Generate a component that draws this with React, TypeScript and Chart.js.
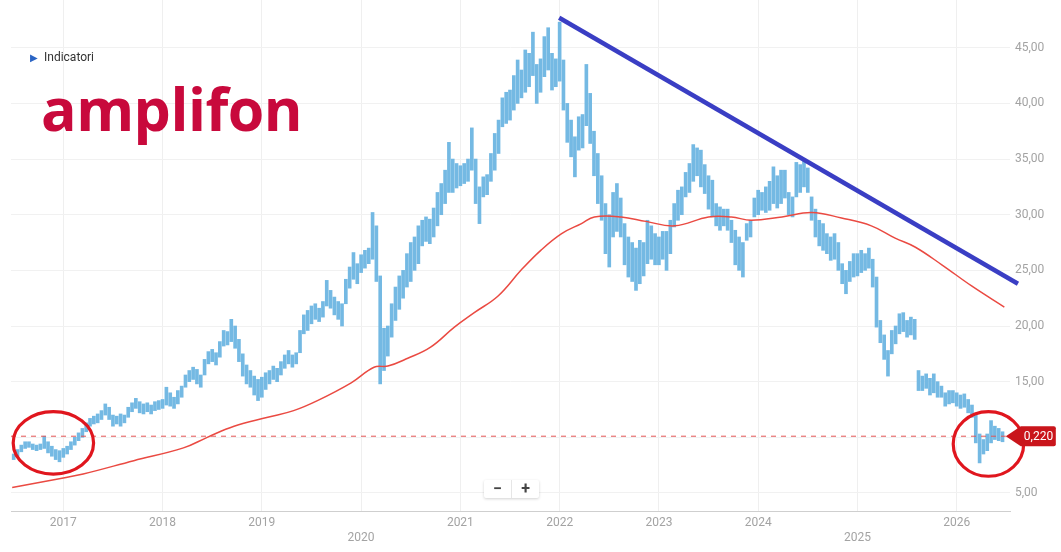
import React, { useEffect, useRef } from 'react';
import { Chart, registerables } from 'chart.js';

Chart.register(...registerables);

// ---- axis ticks ----
const xTickYears = [2017, 2018, 2019, 2020, 2021, 2022, 2023, 2024, 2025, 2026];
const lowerRowYears = [2020, 2025];
const yTickValues = [5, 10, 15, 20, 25, 30, 35, 40, 45];
const xMin = 2016.473;
const xMax = 2026.537;
const yMin = 3.38;
const yMax = 49.29;

// ---- bi-weekly high/low bars (26 per year) ----
const lo2016 = [8.0, 8.3, 8.7, 9.0, 9.1, 8.9, 8.8, 8.9, 9.0, 8.6, 8.3, 8.0, 7.8];
const hi2016 = [8.5, 8.9, 9.3, 9.6, 9.6, 9.4, 9.3, 9.4, 10.1, 9.6, 9.2, 8.9, 8.8];

const lo2017 = [8.2, 8.5, 8.9, 9.3, 9.7, 10.0, 10.5, 11.0, 11.2, 11.3, 11.6, 12.0, 11.6, 11.0, 11.2, 11.0, 11.3, 11.8, 12.3, 12.6, 12.2, 12.1, 12.3, 12.1, 12.4, 12.5];
const hi2017 = [9.0, 9.2, 9.6, 10.0, 10.4, 10.8, 11.3, 11.7, 11.9, 12.1, 12.4, 13.0, 12.7, 12.0, 11.9, 12.1, 12.0, 12.7, 13.1, 13.5, 13.2, 13.0, 13.1, 12.9, 13.2, 13.3];

const lo2018 = [12.6, 12.9, 12.8, 12.6, 13.0, 13.6, 14.5, 15.0, 15.2, 14.8, 14.5, 15.6, 16.6, 16.8, 16.5, 17.2, 18.2, 18.3, 18.6, 18.0, 16.8, 15.5, 14.8, 14.5, 13.8, 13.3];
const hi2018 = [13.4, 14.5, 14.0, 13.6, 14.2, 14.6, 15.6, 16.0, 16.3, 16.1, 15.6, 17.0, 17.7, 17.9, 17.6, 18.6, 19.6, 19.5, 20.6, 20.0, 18.8, 17.5, 16.5, 16.0, 15.5, 15.2];

const lo2019 = [13.6, 14.3, 14.8, 15.2, 15.0, 15.6, 16.2, 16.6, 16.3, 16.6, 17.6, 19.3, 19.6, 20.2, 20.6, 20.4, 20.8, 21.8, 21.6, 21.0, 20.6, 20.0, 22.0, 23.4, 24.2, 23.8];
const hi2019 = [15.4, 15.8, 16.0, 16.4, 16.2, 16.8, 17.4, 17.8, 17.4, 17.6, 19.6, 21.0, 21.4, 21.8, 22.0, 21.6, 22.2, 24.1, 23.2, 22.6, 22.2, 22.0, 24.2, 25.3, 26.6, 25.6];

const lo2020 = [24.8, 25.2, 25.6, 26.0, 24.0, 14.8, 16.0, 17.3, 19.0, 20.5, 21.5, 22.5, 23.5, 24.0, 25.0, 25.6, 27.2, 27.6, 27.4, 28.0, 29.0, 30.0, 31.0, 32.0, 32.0, 32.4];
const hi2020 = [26.4, 26.8, 27.0, 30.2, 29.0, 24.5, 19.8, 20.0, 22.0, 23.5, 24.5, 25.0, 26.5, 27.5, 28.0, 29.0, 29.5, 29.8, 29.6, 30.6, 32.0, 32.8, 34.0, 36.5, 35.0, 34.6];

const lo2021 = [32.6, 32.8, 33.0, 34.0, 31.0, 29.2, 31.6, 31.8, 33.0, 34.0, 35.5, 37.9, 38.2, 38.5, 39.4, 40.0, 40.5, 41.0, 41.5, 42.5, 40.0, 41.0, 42.4, 43.0, 41.2, 41.5];
const hi2021 = [34.4, 34.6, 35.0, 37.8, 35.0, 32.5, 33.4, 33.6, 35.5, 37.3, 38.5, 40.5, 41.0, 41.2, 42.5, 43.9, 43.0, 44.8, 44.5, 46.4, 43.5, 44.0, 46.0, 46.8, 44.5, 44.0];

const lo2022 = [42.0, 39.4, 36.5, 35.2, 33.4, 35.8, 36.0, 38.0, 36.4, 33.5, 31.0, 29.5, 26.5, 25.3, 28.0, 28.5, 28.0, 25.5, 24.4, 24.0, 23.2, 23.8, 24.5, 25.6, 26.0, 25.5];
const hi2022 = [47.3, 43.9, 40.0, 38.5, 37.0, 38.8, 39.0, 43.5, 40.9, 37.5, 35.5, 33.5, 31.0, 30.0, 32.0, 32.8, 31.5, 29.2, 28.0, 27.5, 27.0, 27.7, 27.5, 29.5, 29.0, 28.3];

const lo2023 = [25.5, 26.0, 25.0, 26.5, 28.9, 29.5, 30.0, 31.6, 32.0, 33.0, 33.5, 32.5, 31.9, 30.5, 29.8, 29.0, 28.6, 29.0, 28.6, 27.5, 25.5, 25.0, 24.4, 27.7, 28.0, 29.8];
const hi2023 = [28.0, 28.5, 28.5, 29.5, 31.0, 32.2, 32.5, 33.8, 34.6, 36.3, 36.0, 35.8, 34.5, 33.5, 33.1, 31.0, 30.7, 30.5, 30.5, 29.5, 28.6, 28.0, 27.5, 29.2, 29.5, 31.5];

const lo2024 = [30.0, 30.4, 30.2, 30.4, 31.0, 30.6, 31.0, 31.5, 30.0, 29.8, 31.6, 32.0, 32.5, 32.0, 29.5, 28.0, 27.2, 26.8, 26.5, 25.9, 26.0, 25.0, 23.8, 22.9, 24.0, 24.4];
const hi2024 = [32.2, 32.0, 32.5, 33.0, 34.3, 33.5, 34.0, 34.0, 32.0, 31.6, 34.7, 34.5, 34.9, 34.2, 31.6, 30.5, 29.5, 29.2, 28.3, 28.0, 28.3, 27.5, 25.6, 25.0, 25.8, 26.5];

const lo2025 = [24.5, 24.8, 25.0, 25.2, 23.5, 19.9, 18.5, 17.0, 15.5, 17.5, 18.4, 19.3, 19.5, 19.0, 19.2, 18.8, 14.2, 14.2, 14.4, 13.8, 14.0, 13.6, 13.6, 12.8, 13.0, 13.1];
const hi2025 = [26.5, 26.8, 26.5, 27.0, 26.0, 24.4, 20.5, 19.2, 17.8, 19.6, 20.0, 21.1, 21.2, 20.5, 20.8, 20.6, 16.0, 15.5, 15.7, 15.3, 15.7, 15.0, 14.6, 14.0, 14.2, 14.2];

const lo2026 = [12.8, 12.6, 12.7, 12.2, 11.8, 9.5, 7.7, 8.5, 8.8, 9.5, 9.8, 9.7, 9.6];
const hi2026 = [14.0, 13.8, 13.9, 13.4, 12.9, 12.0, 10.3, 9.8, 10.3, 11.5, 11.0, 10.8, 10.5];

// ---- 200-period moving average ----
const maDates = [2016.485, 2017.0, 2017.2, 2017.71, 2018.21, 2018.45, 2018.72, 2019.06, 2019.32, 2019.56, 2019.9, 2020.13, 2020.27, 2020.47, 2020.7, 2020.94, 2021.14, 2021.38, 2021.61, 2021.81, 2022.02, 2022.22, 2022.35, 2022.62, 2022.87, 2023.16, 2023.5, 2023.73, 2023.93, 2024.24, 2024.54, 2024.84, 2025.14, 2025.38, 2025.58, 2025.85, 2026.15, 2026.48];
const maValues = [5.5, 6.35, 6.7, 7.9, 9.05, 10.0, 11.0, 11.8, 12.4, 13.3, 14.9, 16.3, 16.4, 17.1, 18.1, 19.9, 21.2, 22.7, 25.0, 26.8, 28.3, 29.2, 29.8, 29.8, 29.4, 29.0, 29.8, 29.8, 29.5, 29.8, 30.2, 29.7, 29.0, 27.9, 27.1, 25.5, 23.6, 21.7];

// ---- trend line & last price ----
const trendDates = [2021.995, 2026.617];
const trendValues = [47.7, 23.8];
const lastPrice = 10.1;
const lastPriceEnd = 2026.495;
const lastPriceLabel = '0,220';

// ---- highlighted zones (center date, center value, half-width in years, half-height in price) ----
const circleDates = [2016.9, 2026.32];
const circleValues = [9.5, 9.4];
const circleHalfWidths = [0.405, 0.355];
const circleHalfHeights = [2.8, 2.9];

const yearBlocks: [number, number, number[], number[]][] = [
  [2016, 13, lo2016, hi2016],
  [2017, 0, lo2017, hi2017],
  [2018, 0, lo2018, hi2018],
  [2019, 0, lo2019, hi2019],
  [2020, 0, lo2020, hi2020],
  [2021, 0, lo2021, hi2021],
  [2022, 0, lo2022, hi2022],
  [2023, 0, lo2023, hi2023],
  [2024, 0, lo2024, hi2024],
  [2025, 0, lo2025, hi2025],
  [2026, 0, lo2026, hi2026],
];

function buildBars() {
  const out: { x: number; y: [number, number] }[] = [];
  yearBlocks.forEach(([year, start, lo, hi]) => {
    lo.forEach((l, i) => {
      out.push({ x: year + (start + i) / 26, y: [l, hi[i]] });
    });
  });
  return out;
}

const overlayPlugin = {
  id: 'overlay',
  afterDraw(chart: any) {
    const { ctx, scales } = chart;
    const xs = scales.x;
    const ys = scales.y;
    ctx.save();
    // circles
    ctx.strokeStyle = '#e0161e';
    ctx.lineWidth = 3.2;
    circleDates.forEach((d, i) => {
      const cx = xs.getPixelForValue(d);
      const cy = ys.getPixelForValue(circleValues[i]);
      const rx = xs.getPixelForValue(d + circleHalfWidths[i]) - cx;
      const ry = cy - ys.getPixelForValue(circleValues[i] + circleHalfHeights[i]);
      ctx.beginPath();
      ctx.ellipse(cx, cy, rx, ry, 0, 0, Math.PI * 2);
      ctx.stroke();
    });
    // last price label
    const tipX = xs.getPixelForValue(lastPriceEnd);
    const py = ys.getPixelForValue(lastPrice);
    const boxL = tipX + 15;
    const boxR = boxL + 35;
    ctx.fillStyle = '#c9151b';
    ctx.beginPath();
    ctx.moveTo(tipX, py);
    ctx.lineTo(boxL, py - 10);
    ctx.lineTo(boxR - 2, py - 10);
    ctx.quadraticCurveTo(boxR, py - 10, boxR, py - 8);
    ctx.lineTo(boxR, py + 8);
    ctx.quadraticCurveTo(boxR, py + 10, boxR - 2, py + 10);
    ctx.lineTo(boxL, py + 10);
    ctx.closePath();
    ctx.fill();
    ctx.fillStyle = '#ffffff';
    ctx.font = '12px Roboto';
    ctx.textBaseline = 'middle';
    ctx.textAlign = 'left';
    ctx.fillText(lastPriceLabel, boxL + 3, py + 1);
    ctx.restore();
  },
};

function App() {
  const ref = useRef<HTMLCanvasElement | null>(null);
  useEffect(() => {
    if (!ref.current) return;
    Chart.defaults.font.family = 'Roboto';
    const bars = buildBars();
    const chart = new Chart(ref.current, {
      type: 'bar',
      data: {
        datasets: [
          {
            type: 'line',
            label: 'trend',
            data: trendDates.map((d, i) => ({ x: d, y: trendValues[i] })),
            borderColor: '#3a3ec4',
            borderWidth: 4.5,
            pointRadius: 0,
            clip: false,
            order: 0,
          } as any,
          {
            type: 'line',
            label: 'last',
            data: [
              { x: xMin, y: lastPrice },
              { x: lastPriceEnd, y: lastPrice },
            ],
            borderColor: '#e35454',
            borderWidth: 1,
            borderDash: [5, 5],
            pointRadius: 0,
            order: 1,
          } as any,
          {
            type: 'line',
            label: 'MA',
            data: maDates.map((d, i) => ({ x: d, y: maValues[i] })),
            borderColor: '#ea4a42',
            borderWidth: 1.5,
            pointRadius: 0,
            tension: 0.4,
            order: 2,
          } as any,
          {
            type: 'bar',
            label: 'Amplifon',
            data: bars as any,
            backgroundColor: '#74b9e3',
            barThickness: 3,
            order: 3,
          } as any,
        ],
      },
      options: {
        animation: false,
        responsive: false,
        layout: { padding: { left: 11, top: 0, right: 0, bottom: 0 } },
        plugins: { legend: { display: false }, tooltip: { enabled: false } },
        scales: {
          x: {
            type: 'linear',
            min: xMin,
            max: xMax,
            offset: false,
            afterBuildTicks: (axis: any) => {
              axis.ticks = xTickYears.map((v) => ({ value: v }));
            },
            afterFit: (axis: any) => {
              axis.height = 41;
              axis.paddingLeft = 0;
              axis.paddingRight = 0;
            },
            grid: { color: '#efefef', drawTicks: false, offset: false },
            border: { color: '#cfcfcf' },
            ticks: {
              color: '#a3a3a3',
              font: { size: 12, family: 'Roboto' },
              padding: 5,
              maxRotation: 0,
              autoSkip: false,
              callback: (v: any) => (lowerRowYears.includes(v) ? ['', String(v)] : String(v)),
            },
          },
          y: {
            type: 'linear',
            position: 'right',
            min: yMin,
            max: yMax,
            afterBuildTicks: (axis: any) => {
              axis.ticks = yTickValues.map((v) => ({ value: v }));
            },
            afterFit: (axis: any) => {
              axis.width = 51;
              axis.paddingTop = 0;
              axis.paddingBottom = 0;
            },
            grid: { color: '#f1f1f1', drawTicks: false },
            border: { display: false },
            ticks: {
              color: '#a3a3a3',
              font: { size: 12, family: 'Roboto' },
              padding: 5,
              callback: (v: any) => (v === 10 ? '' : Number(v).toFixed(2).replace('.', ',')),
            },
          },
        },
      },
      plugins: [overlayPlugin],
    });
    return () => chart.destroy();
  }, []);

  return (
    <div style={{ position: 'absolute', left: 0, top: 0, width: 1061, height: 552, background: '#fff', fontFamily: 'Roboto' }}>
      <canvas ref={ref} width={1061} height={552} style={{ position: 'absolute', left: 0, top: 0 }} />
      <div style={{ position: 'absolute', left: 30, top: 50, fontSize: 12, color: '#333', display: 'flex', alignItems: 'center', gap: 6 }}>
        <span style={{ color: '#2a64c4', fontSize: 10 }}>▶</span>
        <span>Indicatori</span>
      </div>
      <div
        style={{
          position: 'absolute',
          left: 41,
          top: 79,
          fontFamily: 'Open Sans',
          fontWeight: 700,
          fontSize: 59,
          lineHeight: '58px',
          letterSpacing: -0.5,
          color: '#c8093c',
        }}
      >
        amplifon
      </div>
      <div
        style={{
          position: 'absolute',
          left: 484,
          top: 480,
          width: 55,
          height: 18,
          display: 'flex',
          background: '#fff',
          boxShadow: '0 1px 3px rgba(0,0,0,0.18)',
          borderRadius: 2,
          color: '#444',
          fontSize: 16,
          fontWeight: 700,
          lineHeight: '18px',
        }}
      >
        <div style={{ flex: 1, textAlign: 'center', borderRight: '1px solid #e6e6e6' }}>−</div>
        <div style={{ flex: 1, textAlign: 'center' }}>+</div>
      </div>
    </div>
  );
}

export default App;
